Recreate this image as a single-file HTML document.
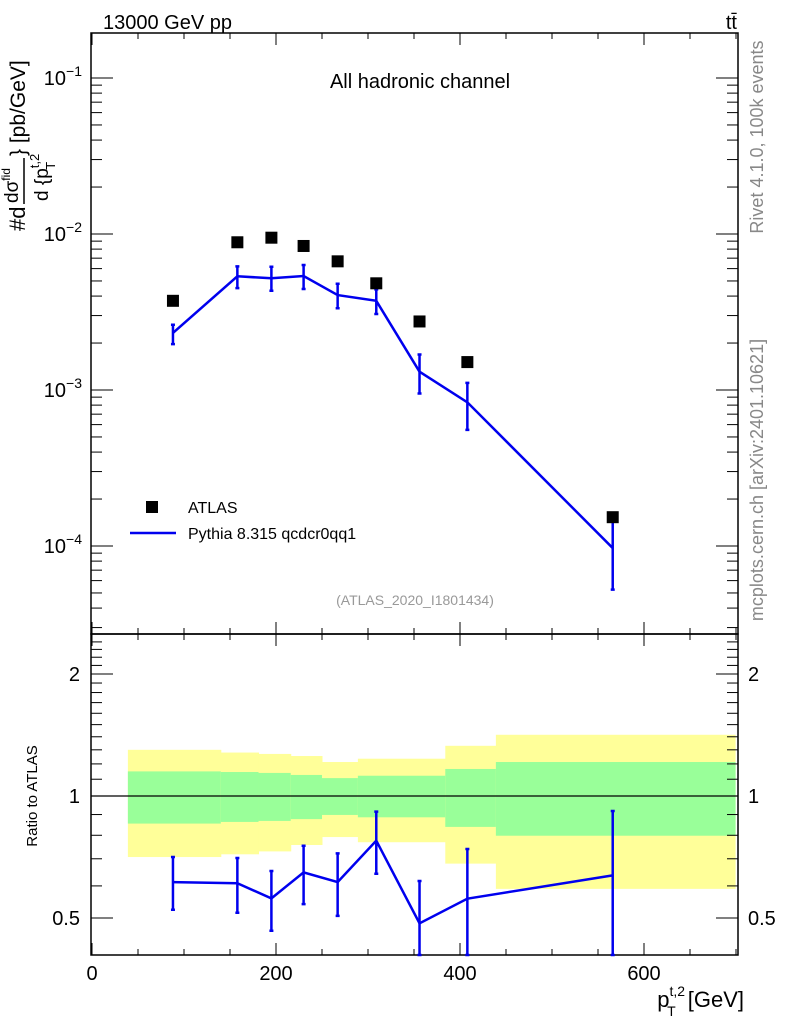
<!DOCTYPE html>
<html><head><meta charset="utf-8"><style>
body{margin:0;background:#fff;}
svg{display:block;font-family:"Liberation Sans",sans-serif;}
</style></head><body>
<svg id="chart" width="786" height="1024" viewBox="0 0 786 1024">
<g id="bands"></g>
<g id="axes"></g>
<g id="marks"></g>
<text x="103" y="29" font-size="20">13000 GeV pp</text>
<text x="737" y="29" font-size="20" text-anchor="end">tt̄</text>
<text x="420" y="88" font-size="20" text-anchor="middle">All hadronic channel</text>
<text transform="translate(763,137) rotate(-90)" font-size="18" fill="#888" text-anchor="middle">Rivet 4.1.0,  100k events</text>
<text transform="translate(763,480) rotate(-90)" font-size="18" fill="#888" text-anchor="middle">mcplots.cern.ch [arXiv:2401.10621]</text>
<text x="415" y="605" font-size="14" fill="#999" text-anchor="middle">(ATLAS_2020_I1801434)</text>
<rect x="146" y="501" width="12" height="12" fill="#000"/>
<text x="188" y="513" font-size="16">ATLAS</text>
<line x1="130" y1="533" x2="176" y2="533" stroke="#0000ee" stroke-width="2.5"/>
<text x="188" y="539" font-size="16">Pythia 8.315 qcdcr0qq1</text>
<g transform="rotate(-90)">
<text x="-231" y="25" font-size="22">#d</text>
<text x="-203" y="18" font-size="19">dσ<tspan font-size="12" dy="-8">fid</tspan></text>
<line x1="-204" y1="24" x2="-158" y2="24" stroke="#000" stroke-width="1.5"/>
<text x="-201" y="48" font-size="19">d {p<tspan font-size="13" dy="-9">t,2</tspan><tspan font-size="13" dx="-16" dy="16">T</tspan></text>
<text x="-156" y="25" font-size="21">} [pb/GeV]</text>
</g>
<text transform="translate(37,796) rotate(-90)" font-size="15" text-anchor="middle">Ratio to ATLAS</text>
<text x="744" y="1007" font-size="22" text-anchor="end">p<tspan font-size="14" dy="-11">t,2</tspan><tspan font-size="14" dx="-18" dy="20">T</tspan><tspan dx="6" dy="-9"> [GeV]</tspan></text>
</svg>
<script>
const xVals=[88,158,195,230,267,309,356,408,566];
const atlasVals=[3.73e-3,8.85e-3,9.47e-3,8.38e-3,6.68e-3,4.83e-3,2.75e-3,1.51e-3,1.53e-4];
const pyVals=[2.32e-3,5.36e-3,5.2e-3,5.38e-3,4.06e-3,3.73e-3,1.31e-3,8.34e-4,9.7e-5];
const pyUp=[2.62e-3,6.2e-3,6.17e-3,6.33e-3,4.8e-3,4.42e-3,1.69e-3,1.11e-3,1.47e-4];
const pyDn=[1.97e-3,4.5e-3,4.33e-3,4.44e-3,3.34e-3,3.07e-3,9.5e-4,5.55e-4,5.25e-5];
const ratioVals=[0.613,0.609,0.559,0.648,0.613,0.776,0.485,0.558,0.637];
const ratioUp=[0.707,0.703,0.653,0.754,0.722,0.915,0.617,0.74,0.918];
const ratioDn=[0.524,0.515,0.465,0.541,0.506,0.643,0.3,0.3,0.3];
const binEdges=[39,140,181,216,250,289,384,439,699];
const yelHi=[1.30,1.28,1.27,1.255,1.213,1.236,1.33,1.416];
const grnHi=[1.15,1.146,1.14,1.127,1.107,1.122,1.166,1.213];
const grnLo=[0.855,0.863,0.868,0.877,0.898,0.886,0.839,0.798];
const yelLo=[0.707,0.718,0.73,0.757,0.792,0.769,0.681,0.59];
const xTicks=[0,200,400,600];
const mainTicks=[-1,-2,-3,-4];
const ratioTicks=[0.5,1,2];

const NS='http://www.w3.org/2000/svg';
const L=91,R=738,T1=33,B1=634,T2=634,B2=955;
const X=g=>92+g*0.92;
const Y1=v=>78+(-1-Math.log10(v))*156;
const Y2=r=>{const y=796-Math.log2(r)*122;return Math.max(T2,Math.min(B2,y));};
function mk(p,tag,a){const e=document.createElementNS(NS,tag);for(const k in a)e.setAttribute(k,a[k]);p.appendChild(e);return e;}
const bands=document.getElementById('bands'),axes=document.getElementById('axes'),marks=document.getElementById('marks');

for(let i=0;i<yelHi.length;i++){
 const x0=X(binEdges[i]),x1=X(binEdges[i+1]);
 const y=mk(bands,'rect',{x:x0,y:Y2(yelHi[i]),width:x1-x0+0.5,height:Y2(yelLo[i])-Y2(yelHi[i]),fill:'#ffff99'});
 
 
 const g=mk(bands,'rect',{x:x0,y:Y2(grnHi[i]),width:x1-x0+0.5,height:Y2(grnLo[i])-Y2(grnHi[i]),fill:'#99ff99'});
 
 
}
mk(axes,'line',{x1:L,y1:796,x2:R,y2:796,stroke:'#000','stroke-width':1.2});
const f1=mk(axes,'rect',{x:L,y:T1,width:R-L,height:B1-T1,fill:'none',stroke:'#000','stroke-width':1.5});


const f2=mk(axes,'rect',{x:L,y:T2,width:R-L,height:B2-T2,fill:'none',stroke:'#000','stroke-width':1.5});


for(let g=0;g<=700;g+=50){
 const len=g%200==0?12:6,x=X(g);
 for(const [yt,yb] of [[T1,B1],[T2,B2]]){
  mk(axes,'line',{x1:x,y1:yt,x2:x,y2:yt+len,stroke:'#000'});
  mk(axes,'line',{x1:x,y1:yb,x2:x,y2:yb-len,stroke:'#000'});
 }
}
xTicks.forEach(g=>{const t=mk(axes,'text',{x:X(g),y:980,'font-size':20,'text-anchor':'middle'});t.textContent=g;
 
 });
for(let d=-5;d<=-1;d++)for(let m=1;m<10;m++){
 const v=m*Math.pow(10,d),y=Y1(v);if(y<T1||y>B1)continue;
 const len=m==1?22:11;
 mk(axes,'line',{x1:L,y1:y,x2:L+len,y2:y,stroke:'#000'});
 mk(axes,'line',{x1:R,y1:y,x2:R-len,y2:y,stroke:'#000'});
}
mainTicks.forEach(e=>{const t=mk(axes,'text',{x:82,y:Y1(Math.pow(10,e))+7,'font-size':20,'text-anchor':'end'});
 t.innerHTML='10<tspan font-size="14" dy="-9">−'+(-e)+'</tspan>';
 
 });
for(let r=0.4;r<=2.45;r+=0.1){const y=Y2(r);if(y<=T2||y>=B2)continue;
 const maj=Math.abs(r-0.5)<1e-6||Math.abs(r-1)<1e-6||Math.abs(r-2)<1e-6,len=maj?22:11;
 mk(axes,'line',{x1:L,y1:y,x2:L+len,y2:y,stroke:'#000'});
 mk(axes,'line',{x1:R,y1:y,x2:R-len,y2:y,stroke:'#000'});}
ratioTicks.forEach(r=>{
 const t=mk(axes,'text',{x:80,y:Y2(r)+7,'font-size':20,'text-anchor':'end'});t.textContent=r;
 
 
 const t2=mk(axes,'text',{x:748,y:Y2(r)+7,'font-size':20});t2.textContent=r;
 
 });
const pl=mk(marks,'polyline',{points:xVals.map((g,i)=>X(g)+','+Y1(pyVals[i])).join(' '),fill:'none',stroke:'#0000ee','stroke-width':2.5});


xVals.forEach((g,i)=>{const x=X(g);
 const e=mk(marks,'path',{d:`M${x},${Y1(pyUp[i])}V${Y1(pyDn[i])}M${x-2},${Y1(pyUp[i])}h4M${x-2},${Y1(pyDn[i])}h4`,stroke:'#0000ee','stroke-width':2.5,fill:'none'});
 
 
 const s=mk(marks,'rect',{x:x-6,y:Y1(atlasVals[i])-6,width:12,height:12,fill:'#000'});
 
 });
const rl=mk(marks,'polyline',{points:xVals.map((g,i)=>X(g)+','+Y2(ratioVals[i])).join(' '),fill:'none',stroke:'#0000ee','stroke-width':2.5});


xVals.forEach((g,i)=>{const x=X(g);
 const e=mk(marks,'path',{d:`M${x},${Y2(ratioUp[i])}V${Y2(ratioDn[i])}M${x-2},${Y2(ratioUp[i])}h4M${x-2},${Y2(ratioDn[i])}h4`,stroke:'#0000ee','stroke-width':2.5,fill:'none'});
 
 });
</script>
</body></html>
